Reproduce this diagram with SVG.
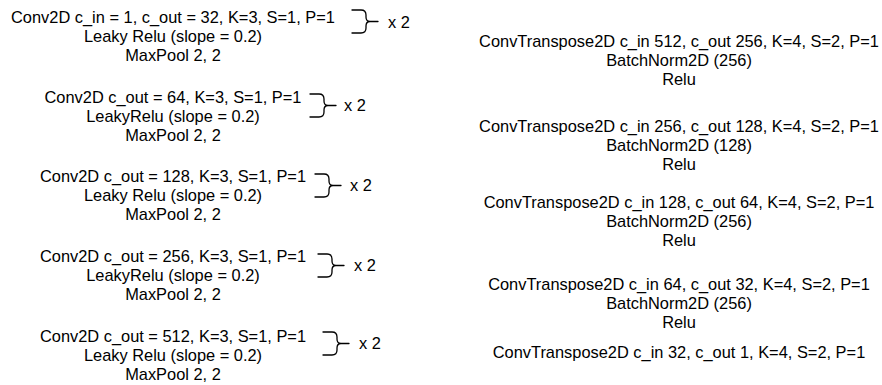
<svg xmlns="http://www.w3.org/2000/svg" xmlns:xlink="http://www.w3.org/1999/xlink" width="882" height="385" viewBox="0 0 882 385">
<style>
text{font-family:"Liberation Sans",Arial,Helvetica,sans-serif;font-size:16.4px;fill:#000}
.c{text-anchor:middle}
.br{fill:none;stroke:#000;stroke-width:1.3;stroke-linecap:round;stroke-linejoin:round}
</style>
<defs>
<path id="brace" class="br" d="M0,0 H9 Q14,0 14,5 V7 Q14,11.5 18,11.5 H26 M18,11.5 Q14,11.5 14,16 V18 Q14,23 9,23 H0"/>
</defs>
<rect width="882" height="385" fill="#fff"/>
<g id="enc1">
<text class="c" x="173" y="23">Conv2D c_in = 1, c_out = 32, K=3, S=1, P=1</text>
<text class="c" x="173" y="42">Leaky Relu (slope = 0.2)</text>
<text class="c" x="173" y="61">MaxPool 2, 2</text>
</g>
<g id="enc2">
<text class="c" x="173" y="103">Conv2D c_out = 64, K=3, S=1, P=1</text>
<text class="c" x="173" y="122">LeakyRelu (slope = 0.2)</text>
<text class="c" x="173" y="141">MaxPool 2, 2</text>
</g>
<g id="enc3">
<text class="c" x="173" y="182">Conv2D c_out = 128, K=3, S=1, P=1</text>
<text class="c" x="173" y="201">Leaky Relu (slope = 0.2)</text>
<text class="c" x="173" y="220">MaxPool 2, 2</text>
</g>
<g id="enc4">
<text class="c" x="173" y="262">Conv2D c_out = 256, K=3, S=1, P=1</text>
<text class="c" x="173" y="281">LeakyRelu (slope = 0.2)</text>
<text class="c" x="173" y="300">MaxPool 2, 2</text>
</g>
<g id="enc5">
<text class="c" x="173" y="342">Conv2D c_out = 512, K=3, S=1, P=1</text>
<text class="c" x="173" y="361">Leaky Relu (slope = 0.2)</text>
<text class="c" x="173" y="380">MaxPool 2, 2</text>
</g>
<g id="connectors">
<use xlink:href="#brace" href="#brace" x="352" y="10"/>
<use xlink:href="#brace" href="#brace" x="310" y="94"/>
<use xlink:href="#brace" href="#brace" x="315" y="174"/>
<use xlink:href="#brace" href="#brace" x="318" y="254"/>
<use xlink:href="#brace" href="#brace" x="323" y="332"/>
</g>
<g id="rep1"><text x="388" y="28">x 2</text></g>
<g id="rep2"><text x="344" y="111">x 2</text></g>
<g id="rep3"><text x="350" y="191">x 2</text></g>
<g id="rep4"><text x="354" y="271">x 2</text></g>
<g id="rep5"><text x="359" y="349">x 2</text></g>
<g id="dec1">
<text class="c" x="679" y="47">ConvTranspose2D c_in 512, c_out 256, K=4, S=2, P=1</text>
<text class="c" x="679" y="66">BatchNorm2D (256)</text>
<text class="c" x="679" y="85">Relu</text>
</g>
<g id="dec2">
<text class="c" x="679" y="132">ConvTranspose2D c_in 256, c_out 128, K=4, S=2, P=1</text>
<text class="c" x="679" y="151">BatchNorm2D (128)</text>
<text class="c" x="679" y="170">Relu</text>
</g>
<g id="dec3">
<text class="c" x="679" y="208">ConvTranspose2D c_in 128, c_out 64, K=4, S=2, P=1</text>
<text class="c" x="679" y="227">BatchNorm2D (256)</text>
<text class="c" x="679" y="246">Relu</text>
</g>
<g id="dec4">
<text class="c" x="679" y="290">ConvTranspose2D c_in 64, c_out 32, K=4, S=2, P=1</text>
<text class="c" x="679" y="309">BatchNorm2D (256)</text>
<text class="c" x="679" y="328">Relu</text>
</g>
<g id="dec5">
<text class="c" x="679" y="358">ConvTranspose2D c_in 32, c_out 1, K=4, S=2, P=1</text>
</g>
</svg>
